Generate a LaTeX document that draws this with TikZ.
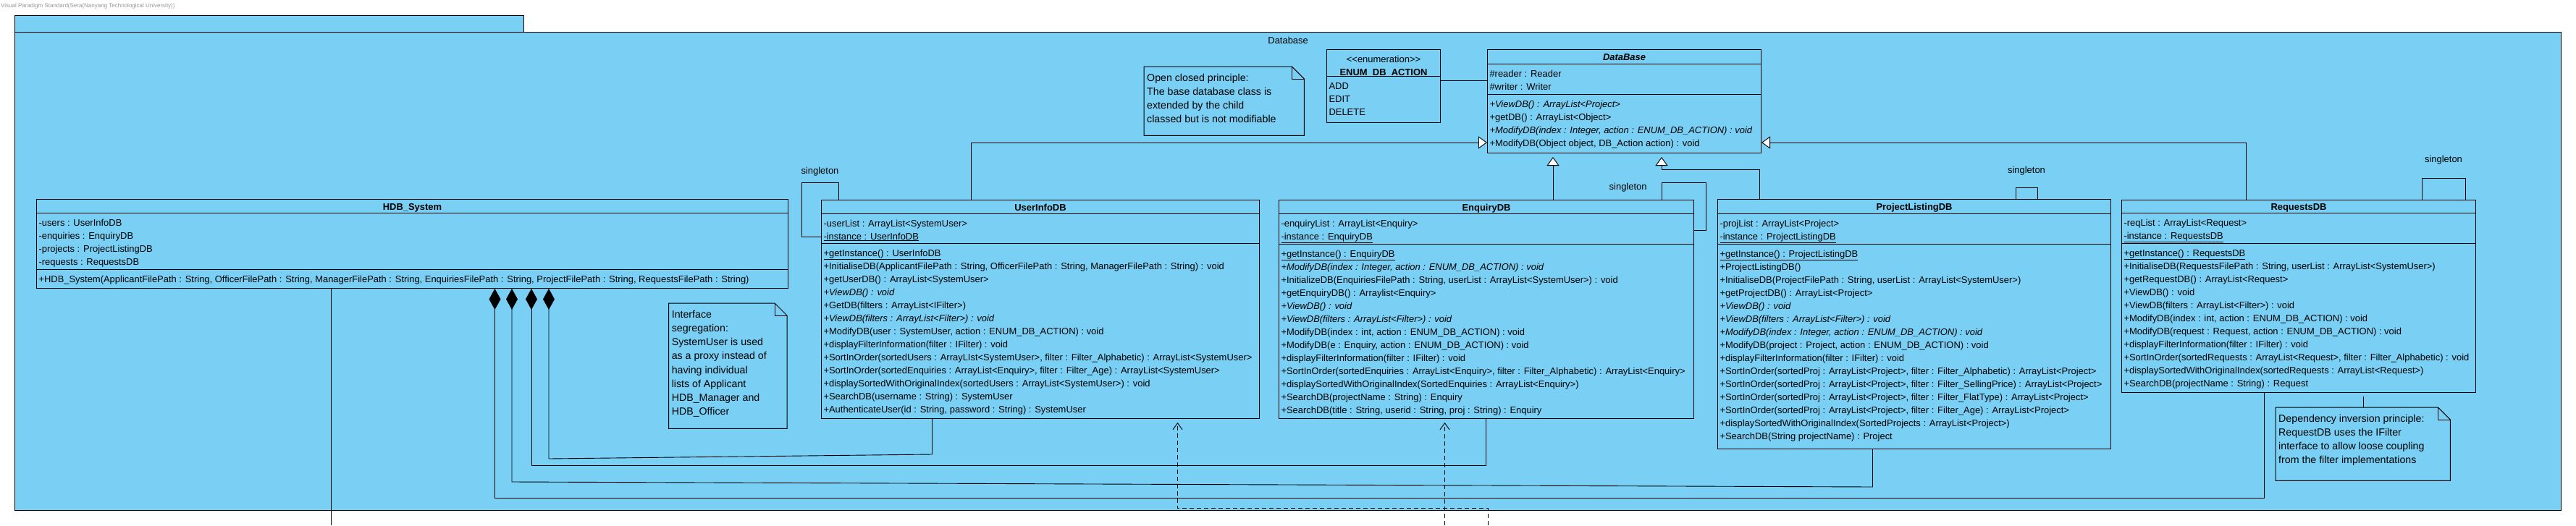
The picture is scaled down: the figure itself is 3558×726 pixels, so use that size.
\documentclass[tikz,border=0pt]{standalone}
\usepackage{fontspec}
\setmainfont{Liberation Sans}
\usetikzlibrary{arrows.meta,shapes.multipart}
\definecolor{vpblue}{RGB}{122,207,245}
\definecolor{vpgray}{RGB}{150,150,150}

\newcommand{\classfont}{\fontsize{12.95}{18}\selectfont}
\newcommand{\notefont}{\fontsize{14.2}{19.2}\selectfont}
\newcommand{\rs}{\rule[-1pt]{0pt}{18pt}}
\newcommand{\ts}{\rule[-4pt]{0pt}{18pt}}
\newcommand{\ns}{\rule{0pt}{20pt}}
\newcommand{\ctitle}[3]{\parbox[t][#2][c]{#1}{\centering\ts#3}}
\newcommand{\chead}[3]{\parbox[t][#2][t]{#1}{\centering\rs#3}}
\newcommand{\cpart}[3]{\makebox[#1][l]{\parbox[t][#2][t]{3000pt}{\rs#3}}}
\newcommand{\notetext}[3]{\makebox[#1][l]{\parbox[t][#2][t]{1000pt}{\ns#3}}}
\newcommand{\notefold}[1]{%
  \draw[boxline] (#1.north west) -- ([xshift=-17pt]#1.north east) -- ([yshift=-17pt]#1.north east)
    -- (#1.south east) -- (#1.south west) -- cycle;
  \draw[boxline] ([xshift=-17pt]#1.north east) |- ([yshift=-17pt]#1.north east);}

\begin{document}
\begin{tikzpicture}[x=1pt,y=-1pt,
  boxline/.style={line width=1pt},
  pkgbox/.style={draw,line width=1.2pt,fill=vpblue,anchor=north west,inner sep=0pt},
  umlclass/.style={rectangle split,rectangle split parts=3,draw,boxline,fill=vpblue,
    inner xsep=3pt,inner ysep=0pt,anchor=north west,font=\classfont},
  umlenum/.style={umlclass,rectangle split parts=2},
  notebox/.style={inner xsep=4pt,inner ysep=0pt,anchor=north west,font=\notefont},
  singlab/.style={font=\classfont,inner sep=0pt},
  assoc/.style={draw,line width=0.9pt},
  gen/.style={assoc,-{Triangle[length=12pt,width=17pt,fill=white]}},
  comp/.style={assoc,{Diamond[length=29pt,width=16pt]}-},
  dep/.style={assoc,dash pattern=on 6pt off 4pt,shorten >=5pt,-{Straight Barb[length=9pt,width=13pt]}}]

\useasboundingbox (0,0) rectangle (3558,726);

\node[font=\fontsize{8}{10}\selectfont,text=vpgray,anchor=west,inner sep=1pt] (wm) at (0,8)
  {Visual Paradigm Standard(Sera(Nanyang Technological University))};

% package
\node[pkgbox,minimum width=703pt,minimum height=23.3pt] (pkgtab) at (20,20.7) {};
\node[pkgbox,minimum width=3517pt,minimum height=661pt] (pkg) at (20,44) {};
\node[font=\classfont,anchor=north,yshift=-4pt] (pkgname) at (pkg.north) {Database};

% classes
\node[umlclass] (dbbase) at (2054,68) {\ctitle{372pt}{19pt}{\textbf{\textit{DataBase}}}
  \nodepart{two}\cpart{372pt}{41pt}{\#reader : Reader\\\#writer : Writer}
  \nodepart{three}\cpart{372pt}{80pt}{\textit{+ViewDB() : ArrayList<Project>}\\
    +getDB() : ArrayList<Object>\\
    \textit{+ModifyDB(index : Integer, action : ENUM\_DB\_ACTION) : void}\\
    +ModifyDB(Object object, DB\_Action action) : void}};

\node[umlenum] (dbaction) at (1832,68) {\chead{151pt}{36pt}{<{}<enumeration>{}>\\\textbf{ENUM\_DB\_ACTION}}
  \nodepart{two}\cpart{151pt}{63pt}{ADD\\EDIT\\DELETE}};

\node[umlclass] (hdbsys) at (50,275) {\ctitle{1032pt}{18pt}{\textbf{HDB\_System}}
  \nodepart{two}\cpart{1032pt}{77pt}{-users : UserInfoDB\\-enquiries : EnquiryDB\\-projects : ProjectListingDB\\-requests : RequestsDB}
  \nodepart{three}\cpart{1032pt}{25pt}{+HDB\_System(ApplicantFilePath : String, OfficerFilePath : String, ManagerFilePath : String, EnquiriesFilePath : String, ProjectFilePath : String, RequestsFilePath : String)}};

\node[umlclass] (userdb) at (1134,276) {\ctitle{599pt}{18pt}{\textbf{UserInfoDB}}
  \nodepart{two}\cpart{599pt}{40pt}{-userList : ArrayList<SystemUser>\\\underline{-instance : UserInfoDB}}
  \nodepart{three}\cpart{599pt}{241pt}{\underline{+getInstance() : UserInfoDB}\\
    +InitialiseDB(ApplicantFilePath : String, OfficerFilePath : String, ManagerFilePath : String) : void\\
    +getUserDB() : ArrayList<SystemUser>\\
    \textit{+ViewDB() : void}\\
    +GetDB(filters : ArrayList<IFilter>)\\
    \textit{+ViewDB(filters : ArrayList<Filter>) : void}\\
    +ModifyDB(user : SystemUser, action : ENUM\_DB\_ACTION) : void\\
    +displayFilterInformation(filter : IFilter) : void\\
    +SortInOrder(sortedUsers : ArrayLIst<SystemUser>, filter : Filter\_Alphabetic) : ArrayList<SystemUser>\\
    +SortInOrder(sortedEnquiries : ArrayList<Enquiry>, filter : Filter\_Age) : ArrayList<SystemUser>\\
    +displaySortedWithOriginalIndex(sortedUsers : ArrayList<SystemUser>) : void\\
    +SearchDB(username : String) : SystemUser\\
    +AuthenticateUser(id : String, password : String) : SystemUser}};

\node[umlclass] (enqdb) at (1766,276) {\ctitle{567pt}{18pt}{\textbf{EnquiryDB}}
  \nodepart{two}\cpart{567pt}{41pt}{-enquiryList : ArrayList<Enquiry>\\\underline{-instance : EnquiryDB}}
  \nodepart{three}\cpart{567pt}{240pt}{\underline{+getInstance() : EnquiryDB}\\
    \textit{+ModifyDB(index : Integer, action : ENUM\_DB\_ACTION) : void}\\
    +InitializeDB(EnquiriesFilePath : String, userList : ArrayList<SystemUser>) : void\\
    +getEnquiryDB() : Arraylist<Enquiry>\\
    \textit{+ViewDB() : void}\\
    \textit{+ViewDB(filters : ArrayList<Filter>) : void}\\
    +ModifyDB(index : int, action : ENUM\_DB\_ACTION) : void\\
    +ModifyDB(e : Enquiry, action : ENUM\_DB\_ACTION) : void\\
    +displayFilterInformation(filter : IFilter) : void\\
    +SortInOrder(sortedEnquiries : ArrayList<Enquiry>, filter : Filter\_Alphabetic) : ArrayList<Enquiry>\\
    +displaySortedWithOriginalIndex(SortedEnquiries : ArrayList<Enquiry>)\\
    +SearchDB(projectName : String) : Enquiry\\
    +SearchDB(title : String, userid : String, proj : String) : Enquiry}};

\node[umlclass] (projdb) at (2372,275) {\ctitle{537pt}{19pt}{\textbf{ProjectListingDB}}
  \nodepart{two}\cpart{537pt}{41pt}{-projList : ArrayList<Project>\\\underline{-instance : ProjectListingDB}}
  \nodepart{three}\cpart{537pt}{282pt}{\underline{+getInstance() : ProjectListingDB}\\
    +ProjectListingDB()\\
    +InitialiseDB(ProjectFilePath : String, userList : ArrayList<SystemUser>)\\
    +getProjectDB() : ArrayList<Project>\\
    \textit{+ViewDB() : void}\\
    \textit{+ViewDB(filters : ArrayList<Filter>) : void}\\
    \textit{+ModifyDB(index : Integer, action : ENUM\_DB\_ACTION) : void}\\
    +ModifyDB(project : Project, action : ENUM\_DB\_ACTION) : void\\
    +displayFilterInformation(filter : IFilter) : void\\
    +SortInOrder(sortedProj : ArrayList<Project>, filter : Filter\_Alphabetic) : ArrayList<Project>\\
    +SortInOrder(sortedProj : ArrayList<Project>, filter : Filter\_SellingPrice) : ArrayList<Project>\\
    +SortInOrder(sortedProj : ArrayList<Project>, filter : Filter\_FlatType) : ArrayList<Project>\\
    +SortInOrder(sortedProj : ArrayList<Project>, filter : Filter\_Age) : ArrayList<Project>\\
    +displaySortedWithOriginalIndex(SortedProjects : ArrayList<Project>)\\
    +SearchDB(String projectName) : Project}};

\node[umlclass] (reqdb) at (2930,276) {\ctitle{483pt}{17pt}{\textbf{RequestsDB}}
  \nodepart{two}\cpart{483pt}{41pt}{-reqList : ArrayList<Request>\\\underline{-instance : RequestsDB}}
  \nodepart{three}\cpart{483pt}{205pt}{\underline{+getInstance() : RequestsDB}\\
    +InitialiseDB(RequestsFilePath : String, userList : ArrayList<SystemUser>)\\
    +getRequestDB() : ArrayList<Request>\\
    +ViewDB() : void\\
    +ViewDB(filters : ArrayList<Filter>) : void\\
    +ModifyDB(index : int, action : ENUM\_DB\_ACTION) : void\\
    +ModifyDB(request : Request, action : ENUM\_DB\_ACTION) : void\\
    +displayFilterInformation(filter : IFilter) : void\\
    +SortInOrder(sortedRequests : ArrayList<Request>, filter : Filter\_Alphabetic) : void\\
    +displaySortedWithOriginalIndex(sortedRequests : ArrayList<Request>)\\
    +SearchDB(projectName : String) : Request}};

% notes
\node[notebox] (ocpnote) at (1580,92) {\notetext{213pt}{95pt}{Open closed principle:\\The base database class is\\extended by the child\\classed but is not modifiable}};
\notefold{ocpnote}
\node[notebox] (isnote) at (923.6,419) {\notetext{155pt}{173pt}{Interface\\segregation:\\SystemUser is used\\as a proxy instead of\\having individual\\lists of Applicant\\HDB\_Manager and\\HDB\_Officer}};
\notefold{isnote}
\node[notebox] (dipnote) at (3143,563) {\notetext{233pt}{101pt}{Dependency inversion principle:\\RequestDB uses the IFilter\\interface to allow loose coupling\\from the filter implementations}};
\notefold{dipnote}

% generalisations
\draw[gen] ([xshift=207.5pt]userdb.north west) |- ([yshift=15pt]dbbase.south west);
\draw[gen,shorten >=5pt] ([xshift=379pt]enqdb.north west) -- ([xshift=91pt]dbbase.south west);
\draw[gen,shorten >=5pt] ([xshift=58pt]projdb.north west) -- ++(0,-41) -| ([xshift=241pt]dbbase.south west);
\draw[gen] ([xshift=172pt]reqdb.north west) |- ([yshift=15pt]dbbase.south east);
\draw[assoc] ([yshift=-43pt]dbaction.north east) -- ([yshift=-43pt]dbbase.north west);

% singletons
\draw[assoc] ([xshift=24pt]userdb.north west) -- ++(0,-24) -- ++(-51,0) node[singlab,midway,above=8pt] {singleton}
  -- ++(0,75) -- ([yshift=-51pt]userdb.north west);
\draw[assoc] ([xshift=529pt]enqdb.north west) -- ++(0,-24) node[singlab,pos=0.7,left=20pt] {singleton}
  -- ++(61,0) -- ++(0,66) -- ([yshift=-42pt]enqdb.north east);
\draw[assoc] ([xshift=412pt]projdb.north west) -- ++(0,-16) -- ++(30,0) node[singlab,midway,above=16pt] {singleton}
  -- ([xshift=442pt]projdb.north west);
\draw[assoc] ([xshift=415pt]reqdb.north west) -- ++(0,-30) -- ++(60,0) node[singlab,midway,above=18pt] {singleton}
  -- ([xshift=475pt]reqdb.north west);

% compositions
\draw[comp] ([xshift=633.5pt]hdbsys.south west) -- ++(0,289) -| ([xshift=197pt]reqdb.south west);
\draw[comp] ([xshift=657pt]hdbsys.south west) -- ++(0,267) -- ++(1879.5,7) -- ([xshift=214.5pt]projdb.south west);
\draw[comp] ([xshift=684pt]hdbsys.south west) -- ++(0,244) -| ([xshift=286pt]enqdb.south west);
\draw[comp] ([xshift=708pt]hdbsys.south west) -- ++(0,235) -- ++(529.5,-6) -- ([xshift=153.5pt]userdb.south west);

% off-page ends
\coordinate (hdbexit) at (457,726);
\coordinate (enqexit) at (1995.5,726);
\coordinate (userexit) at (2055,726);
\draw[assoc] ([xshift=407pt]hdbsys.south west) -- (hdbexit);
\draw[dep] (enqexit) -- ([xshift=229.5pt]enqdb.south west);
\draw[dep] (userexit) -- ++(0,-24) -| ([xshift=492.5pt]userdb.south west);
\draw[assoc,shorten <=5pt] ([xshift=334.5pt]reqdb.south west) -- ([xshift=121.5pt]dipnote.north west);
\end{tikzpicture}
\end{document}
